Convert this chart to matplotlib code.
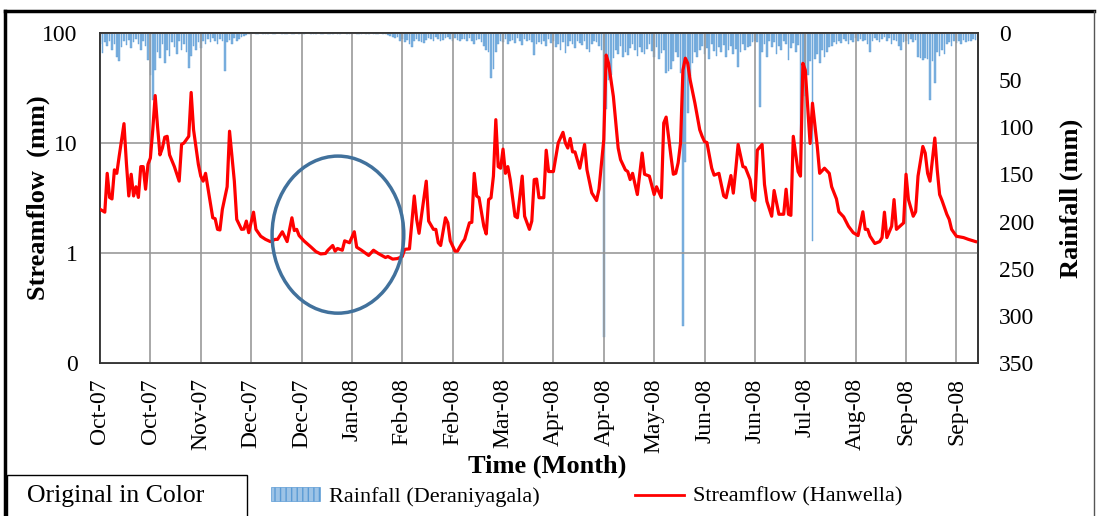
import numpy as np
import matplotlib
matplotlib.use("Agg")
import matplotlib.pyplot as plt
from matplotlib.patches import Ellipse, Patch, Rectangle
from matplotlib.lines import Line2D
from matplotlib.ticker import FixedLocator, NullLocator

plt.rcParams['font.family'] = ['Liberation Serif', 'DejaVu Serif']

# ---- daily rainfall at Deraniyagala (mm), Oct-2007 .. Sep-2008 ----
rain_oct = [12, 21, 10, 14, 8, 18, 12, 25, 30, 15, 9, 13, 7, 16, 10, 6, 12, 18, 9, 14,
            29, 45, 71, 39, 20, 26, 12, 32, 18, 24, 10]
rain_nov = [15, 22, 8, 18, 12, 20, 37, 24, 14, 18, 10, 16, 8, 12, 6, 10, 5, 8, 12, 6,
            9, 40, 10, 7, 12, 5, 8, 6, 4, 3]
rain_dec = [2, 1, 1, 0, 1, 1, 0, 1, 1, 1, 0, 1, 1, 0, 0, 1, 1, 1, 0, 1,
            1, 0, 1, 1, 1, 0, 0, 1, 1, 1, 0]
rain_jan = [1, 1, 0, 1, 1, 1, 0, 1, 1, 0, 0, 1, 1, 1, 0, 1, 1, 1, 0, 1,
            1, 0, 1, 1, 1, 0, 1, 1, 2, 3, 4]
rain_feb = [5, 4, 8, 6, 10, 7, 12, 15, 9, 6, 8, 10, 11, 7, 5, 6, 8, 4, 6, 9,
            7, 5, 4, 6, 8, 5, 7, 9, 6]
rain_mar = [6, 8, 5, 9, 12, 7, 6, 10, 14, 18, 20, 48, 38, 20, 12, 8, 10, 6, 12, 9,
            7, 11, 5, 8, 13, 6, 9, 7, 10, 23, 12]
rain_apr = [10, 12, 8, 14, 6, 11, 9, 15, 12, 18, 10, 21, 14, 9, 12, 16, 8, 11, 13, 9,
            17, 20, 12, 8, 10, 14, 18, 322, 81, 50]
rain_may = [45, 27, 18, 22, 14, 25, 20, 23, 16, 12, 18, 24, 15, 20, 22, 17, 12, 19, 25, 15,
            28, 21, 18, 42, 40, 38, 30, 20, 25, 42, 311]
rain_jun = [137, 85, 46, 32, 20, 25, 18, 14, 22, 16, 28, 12, 19, 24, 15, 20, 13, 25, 18, 14,
            22, 17, 36, 20, 12, 18, 15, 14, 10, 8]
rain_jul = [10, 78, 20, 12, 25, 8, 15, 10, 22, 14, 18, 9, 12, 29, 16, 11, 20, 13, 148, 50,
            67, 45, 30, 221, 28, 22, 32, 18, 25, 20, 15]
rain_aug = [14, 10, 12, 8, 11, 6, 9, 12, 7, 10, 5, 8, 6, 9, 7, 12, 20, 8, 5, 7,
            10, 6, 4, 8, 5, 12, 7, 9, 14, 18, 10]
rain_sep = [8, 12, 6, 10, 7, 25, 27, 29, 26, 28, 71, 30, 53, 20, 24, 18, 22, 12, 10, 14,
            8, 11, 9, 12, 7, 10, 8, 9, 6, 7]

# ---- streamflow at Hanwella (mm), day number since 1-Oct-2007 ----
flow_day = [0, 2, 3, 4, 5, 6, 7, 8, 10, 11, 12, 13, 14, 15, 16, 17, 18, 19, 20, 21,
            22, 23, 24, 25, 26, 27, 28, 29, 31, 33, 34, 35, 37, 38, 39, 41, 42, 43, 44, 46,
            47, 48, 49, 50, 51, 53, 54, 56, 57, 59, 60, 61, 62, 64, 65, 67, 69, 71, 73, 74,
            76, 78, 80, 81, 82, 83, 85, 88, 90, 92, 94, 95, 97, 98, 99, 101, 102, 104, 106, 107,
            109, 112, 114, 116, 119, 120, 122, 124, 126, 127, 129, 131, 132, 133, 136, 137, 139, 140, 141, 142,
            144, 145, 146, 148, 149, 151, 152, 154, 155, 156, 157, 158, 160, 161, 162, 163, 164, 165, 166, 167,
            168, 169, 170, 171, 173, 174, 176, 177, 179, 180, 181, 182, 183, 185, 186, 187, 189, 191, 193, 194,
            195, 196, 197, 198, 200, 202, 203, 205, 207, 208, 210, 211, 212, 214, 216, 217, 219, 220, 221, 222,
            224, 226, 227, 229, 231, 232, 234, 235, 236, 238, 239, 240, 241, 242, 243, 244, 245, 246, 248, 250,
            251, 252, 253, 255, 256, 258, 260, 261, 263, 264, 265, 266, 268, 269, 271, 272, 273, 274, 276, 277,
            278, 280, 281, 283, 285, 286, 287, 288, 289, 291, 292, 293, 294, 296, 297, 299, 300, 302, 304, 305,
            307, 308, 310, 312, 314, 316, 318, 319, 320, 321, 323, 325, 326, 327, 328, 330, 331, 332, 335, 336,
            337, 339, 340, 341, 343, 344, 345, 346, 348, 349, 350, 351, 353, 354, 355, 357, 360, 362, 364, 365]
flow_val = [2.5, 2.35, 5.3, 3.2, 3.1, 5.7, 5.3, 7.6, 15, 6.6, 3.3, 5.2, 3.3, 4.0, 3.2, 6.1, 6.1, 3.8, 6.4, 7.3,
            13.2, 27, 14, 7.8, 9.0, 11.3, 11.5, 7.8, 6.1, 4.5, 9.7, 10, 11.5, 28.8, 13.2, 6.4, 5.0, 4.5, 5.3, 2.86,
            2.09, 2.05, 1.64, 1.62, 2.49, 4.0, 12.8, 4.5, 2.02, 1.64, 1.65, 1.95, 1.53, 2.35, 1.64, 1.42, 1.33, 1.27, 1.33, 1.33,
            1.56, 1.27, 2.09, 1.6, 1.64, 1.44, 1.29, 1.13, 1.03, 0.98, 0.99, 1.06, 1.17, 1.04, 1.10, 1.06, 1.29, 1.24, 1.56, 1.13,
            1.06, 0.95, 1.06, 0.99, 0.91, 0.93, 0.88, 0.89, 0.93, 1.08, 1.09, 3.3, 2.02, 1.51, 4.5, 1.95, 1.64, 1.64, 1.24, 1.17,
            2.09, 1.88, 1.29, 1.04, 1.04, 1.24, 1.33, 1.88, 1.9, 5.3, 3.3, 3.18, 1.75, 1.49, 3.06, 3.18, 5.0, 16.3, 6.1, 5.9,
            8.8, 5.3, 6.1, 4.65, 2.16, 2.09, 5.0, 2.16, 1.64, 1.95, 4.65, 4.7, 3.18, 3.18, 8.6, 5.5, 5.5, 10, 12.5, 10,
            9.0, 11, 8.3, 8.3, 5.9, 9.7, 5.7, 3.52, 3.0, 3.8, 10.7, 63, 53, 26.5, 9.0, 7.06, 5.7, 5.5, 4.65, 5.3,
            3.4, 8.1, 5.2, 5.0, 3.4, 4.0, 3.18, 15.2, 17.2, 7.6, 5.2, 5.3, 6.6, 10, 46, 59, 53, 37.5, 23, 13.2,
            11.5, 10.3, 10.1, 5.9, 5.1, 5.3, 3.3, 3.18, 5.06, 3.5, 5.7, 9.7, 6.1, 6.0, 4.65, 3.18, 3.0, 8.6, 9.7, 4.2,
            2.95, 2.16, 3.7, 2.25, 2.25, 3.8, 2.25, 2.2, 11.5, 5.5, 5.0, 53, 46, 9.9, 23, 9.3, 5.3, 5.9, 5.3, 4.0,
            3.1, 2.37, 2.13, 1.75, 1.53, 1.44, 2.37, 1.64, 1.64, 1.42, 1.22, 1.27, 1.38, 2.35, 1.38, 1.75, 3.06, 1.64, 1.88, 5.2,
            3.06, 2.16, 2.37, 5.0, 9.3, 8.1, 5.3, 4.5, 11.1, 5.7, 3.4, 3.0, 2.25, 2.02, 1.64, 1.42, 1.38, 1.33, 1.29, 1.27]

# date axis: a label every 21 days starting 1-Oct-2007
tick_days = [0, 21, 42, 63, 84, 105, 126, 147, 168, 189, 210, 231, 252, 273, 294, 315, 336, 357]
tick_labels = ['Oct-07', 'Oct-07', 'Nov-07', 'Dec-07', 'Dec-07', 'Jan-08', 'Feb-08', 'Feb-08', 'Mar-08',
               'Apr-08', 'Apr-08', 'May-08', 'Jun-08', 'Jun-08', 'Jul-08', 'Aug-08', 'Sep-08', 'Sep-08']

flow_ticks = [0.1, 1, 10, 100]
flow_tick_labels = ['0', '1', '10', '100']
rain_ticks = [0, 50, 100, 150, 200, 250, 300, 350]

rain = np.concatenate([rain_oct, rain_nov, rain_dec, rain_jan, rain_feb, rain_mar,
                       rain_apr, rain_may, rain_jun, rain_jul, rain_aug, rain_sep])
days = np.arange(len(rain))

W, H = 1097, 516
fig = plt.figure(figsize=(W / 100, H / 100), dpi=100)
ax = fig.add_axes([100 / W, 1 - 363 / H, 878 / W, 330 / H])
ax2 = ax.twinx()

# rainfall hanging from the top on the secondary axis
ax2.bar(days, rain, width=0.7, color='#7fb2e0', edgecolor='#5b9bd5', lw=0.3, zorder=2)
ax2.set_ylim(350, 0)
ax2.set_yticks(rain_ticks)
ax2.set_ylabel('Rainfall (mm)', fontsize=19, fontweight='bold')
ax2.yaxis.set_label_coords(1.093, 0.5)

# streamflow on log scale in front
ax.set_zorder(ax2.get_zorder() + 1)
ax.patch.set_visible(False)
ax.plot(flow_day, flow_val, color='#ff0000', lw=2.3, zorder=3)
ax.set_yscale('log')
ax.set_ylim(0.1, 100)
ax.yaxis.set_major_locator(FixedLocator(flow_ticks))
ax.yaxis.set_minor_locator(NullLocator())
ax.set_yticklabels(flow_tick_labels)
ax.set_xlim(0, 366)
ax.set_xticks(tick_days)
ax.set_xticklabels(tick_labels, rotation=90)
ax.grid(True, color='#999999', lw=1.2)

ax.set_ylabel('Streamflow  (mm)', fontsize=19, fontweight='bold')
ax.yaxis.set_label_coords(-0.057, 0.5)
ax.set_xlabel('Time (Month)', fontsize=19, fontweight='bold')
ax.xaxis.set_label_coords(0.509, -0.278)

ax.tick_params(axis='x', length=0, labelsize=17, pad=11)
ax.tick_params(axis='y', length=0, labelsize=17, pad=16)
ax2.tick_params(axis='y', length=0, labelsize=17, pad=15)
for a in (ax, ax2):
    for s in a.spines.values():
        s.set_color('#333333')
        s.set_linewidth(1.2)

# highlight of the dry-season low flows
ax.add_patch(Ellipse((0.271, 0.389), 0.150, 0.476, transform=ax.transAxes,
                     fill=False, edgecolor='#41719c', lw=2.5, zorder=4))

# legend along the bottom
handles = [Patch(facecolor='#9dc3e6', edgecolor='#5b9bd5', hatch='|||', lw=0.5),
           Line2D([0], [0], color='#ff0000', lw=2)]
fig.legend(handles, ['Rainfall (Deraniyagala)', 'Streamflow (Hanwella)'],
           loc='center left', bbox_to_anchor=(251 / W, 1 - 497 / H), ncol=2,
           frameon=False, fontsize=16, handlelength=2.2, handleheight=0.6,
           columnspacing=4.3, handletextpad=0.4)

# frame and caption box
fig.add_artist(Line2D([5 / W, 1094 / W], [1 - 11 / H, 1 - 11 / H], color='black', lw=2.5))
fig.add_artist(Line2D([5 / W, 5 / W], [0, 1 - 11 / H], color='black', lw=2.5))
fig.add_artist(Line2D([1094 / W, 1094 / W], [0, 1 - 11 / H], color='#555555', lw=1))
fig.add_artist(Rectangle((7 / W, -0.05), 240 / W, 0.05 + 41 / H, transform=fig.transFigure,
                         fill=False, edgecolor='black', lw=1))
fig.text(27 / W, 1 - 496 / H, 'Original in Color', fontsize=18.5, va='center')

fig.savefig('out.png', dpi=100)
